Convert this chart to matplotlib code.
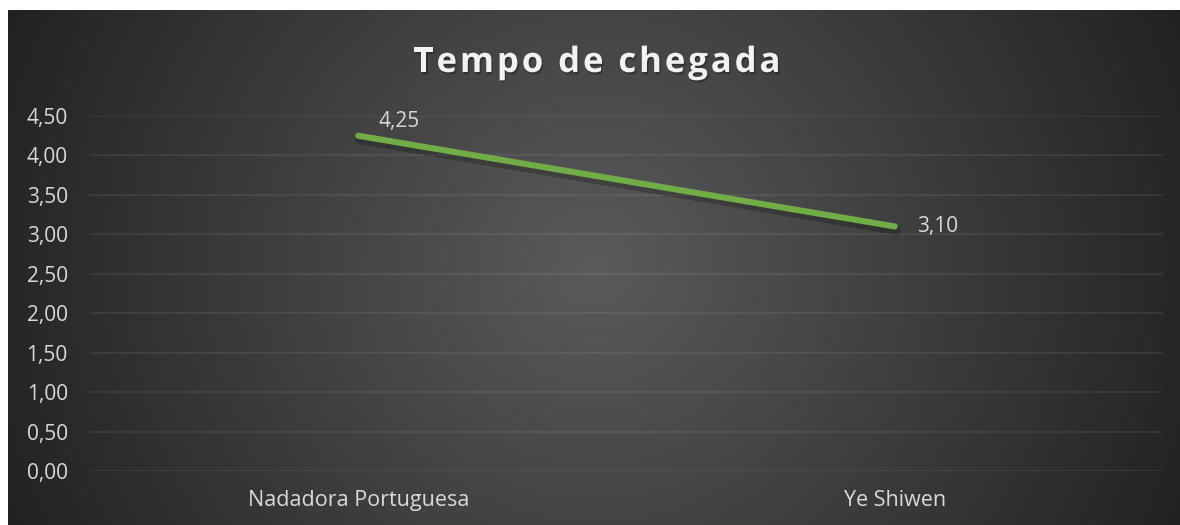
import numpy as np
import matplotlib.pyplot as plt
import matplotlib.patheffects as pe
from matplotlib.font_manager import FontProperties
from matplotlib.textpath import text_to_path

# data
categories = ["Nadadora Portuguesa", "Ye Shiwen"]
values = [4.25, 3.10]
value_labels = ["4,25", "3,10"]
yticks = [0.0, 0.5, 1.0, 1.5, 2.0, 2.5, 3.0, 3.5, 4.0, 4.5]
title = "Tempo de chegada"

W, H, DPI = 1180, 525, 100
plt.rcParams['font.family'] = ['Open Sans', 'DejaVu Sans']
text_col = '#d9d9d9'

fig = plt.figure(figsize=(W / DPI, H / DPI), dpi=DPI)
fig.patch.set_facecolor('white')

# dark chart area, radial gradient (circular in pixels)
bw, bh = W - 8, H - 10
bg = fig.add_axes([8 / W, 0, bw / W, bh / H])
bg.set_axis_off()
py, px = np.mgrid[0:bh:2, 0:bw:2]
d = np.hypot(px - bw / 2, py - bh / 2) / 590
c = 0.355 - 0.205 * np.clip(d, 0, 1.1)
bg.imshow(np.dstack([c, c, c]), aspect='auto', extent=[0, 1, 0, 1], interpolation='bilinear')
bg.set_xlim(0, 1)
bg.set_ylim(0, 1)

# plot area
ax = fig.add_axes([90 / W, (H - 471) / H, (1163 - 90) / W, (471 - 116) / H])
ax.set_facecolor('none')
x = np.arange(len(categories))
ax.set_xlim(-0.5, len(categories) - 0.5)
ax.set_ylim(0, 4.5)
ax.set_yticks(yticks)
ax.set_yticklabels([f"{v:.2f}".replace('.', ',') for v in yticks])
ax.set_xticks(x)
ax.set_xticklabels(categories)
ax.grid(axis='y', color='white', alpha=0.08, linewidth=1.2)
ax.set_axisbelow(True)
for s in ax.spines.values():
    s.set_visible(False)
ax.tick_params(axis='y', length=0, colors=text_col, labelsize=15, pad=16)
ax.tick_params(axis='x', length=0, colors=text_col, labelsize=15.5, pad=14)

ax.plot(x, values, color='#70ad47', linewidth=4.4, solid_capstyle='round',
        path_effects=[pe.SimpleLineShadow(offset=(1.0, -2.5), shadow_color='black', alpha=0.22,
                                          linewidth=7),
                      pe.Normal()], zorder=3)

ax.annotate(value_labels[0], (x[0], values[0]), xytext=(29.5, 10), textcoords='offset points',
            ha='center', va='center', color=text_col, fontsize=15)
ax.annotate(value_labels[1], (x[1], values[1]), xytext=(31, 0), textcoords='offset points',
            ha='center', va='center', color=text_col, fontsize=15)

# title with letter spacing, drawn char by char
tsize = 25
prop = FontProperties(family=['Open Sans', 'DejaVu Sans'], weight='bold', size=tsize)
widths = [text_to_path.get_text_width_height_descent(ch, prop, ismath=False)[0] * DPI / 72
          for ch in title]
target = 367
track = (target - sum(widths)) / (len(title) - 1)
xpos = 597 - target / 2
for ch, w in zip(title, widths):
    fig.text(xpos / W, 1 - 72 / H, ch, ha='left', va='baseline', color='#f2f2f2',
             fontproperties=prop,
             path_effects=[pe.SimplePatchShadow(offset=(1, -1.5), shadow_rgbFace='black', alpha=0.28),
                           pe.Normal()])
    xpos += w + track

fig.savefig('out.png', dpi=DPI, facecolor=fig.get_facecolor())
